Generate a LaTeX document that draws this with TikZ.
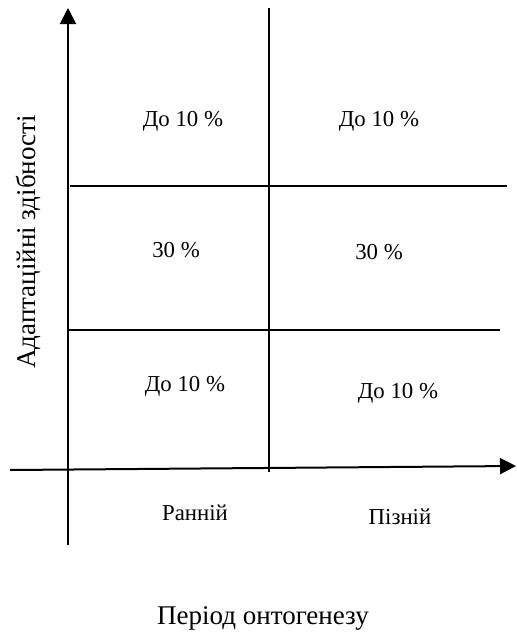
\documentclass[tikz,border=0pt]{standalone}
\usepackage{fontspec}
\setmainfont{Liberation Serif}
\usetikzlibrary{arrows.meta}
\tikzset{
  ax/.style={line width=1pt,-{Triangle[length=8pt,width=8pt]}},
  grd/.style={line width=1pt},
  cell/.style={font=\fontsize{11.4}{13}\selectfont},
  lbl/.style={font=\fontsize{13.5}{16}\selectfont}
}

\begin{document}
\begin{tikzpicture}[x=0.5pt,y=-0.5pt]
\useasboundingbox (0,0) rectangle (516,632);
% axes
\coordinate (yb) at (68,545); \coordinate (yt) at (68,8);
\coordinate (xl) at (10,470); \coordinate (xr) at (516,466);
\draw[ax] (yb) -- (yt);
\draw[ax] (xl) -- (xr);
% grid lines
\coordinate (mt) at (269,8); \coordinate (mb) at (269,472);
\coordinate (h1l) at (70,186); \coordinate (h1r) at (507,186);
\coordinate (h2l) at (68,330); \coordinate (h2r) at (500,330);
\draw[grd] (mt) -- (mb);
\draw[grd] (h1l) -- (h1r);
\draw[grd] (h2l) -- (h2r);
% cells
\node[cell] (c11) at (183,121) {До 10 \%};
\node[cell] (c12) at (379,121) {До 10 \%};
\node[cell] (c21) at (176,250) {30 \%};
\node[cell] (c22) at (379,252) {30 \%};
\node[cell] (c31) at (185,386) {До 10 \%};
\node[cell] (c32) at (398,393) {До 10 \%};
% axis labels
\node[cell] (early) at (195,513) {Ранній};
\node[cell] (late) at (400,517) {Пізній};
\node[lbl] (period) at (263,618) {Період онтогенезу};
\node[lbl,rotate=90] (adapt) at (28,242) {Адаптаційні здібності};
\end{tikzpicture}
\end{document}
